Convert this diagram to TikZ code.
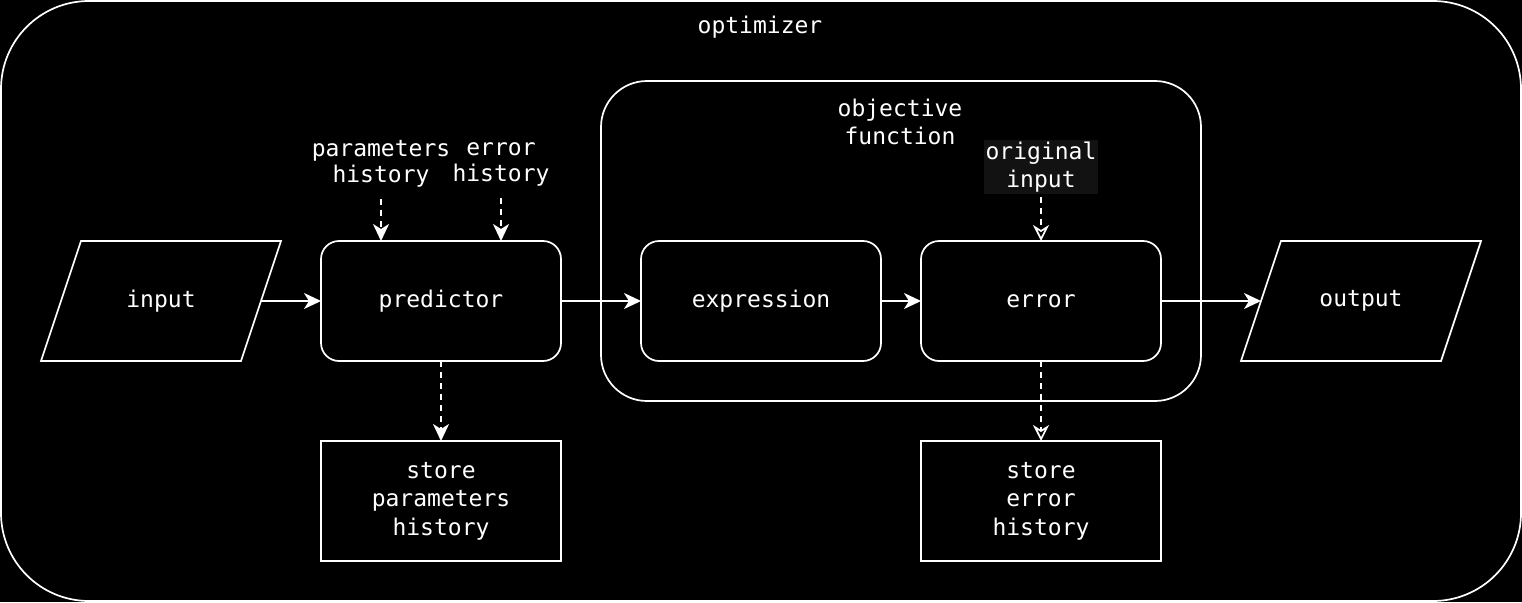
\documentclass[tikz,border=0pt]{standalone}
\usepackage{fontspec}
\setmainfont{DejaVu Sans Mono}
\usetikzlibrary{arrows.meta,positioning}
\definecolor{labelbg}{HTML}{121212}

\tikzset{
  txt/.style={text=white, font=\fontsize{23}{28.5}\selectfont, align=center},
  line/.style={draw=white, line width=1.7pt},
  box/.style={line, minimum width=240pt, minimum height=120pt, inner sep=0pt, outer sep=0pt, txt},
  roundbox/.style={box, rounded corners=18pt},
  iotext/.style={minimum width=200pt, minimum height=120pt, inner sep=0pt, outer sep=0pt, txt},
  flow/.style={line, -{Stealth[length=17pt,width=16pt,inset=5pt]}},
  dashflow/.style={flow, dash pattern=on 6pt off 5pt},
  openflow/.style={line, dash pattern=on 6pt off 5pt, -{Stealth[open,length=16pt,width=16pt,inset=5pt,fill=black]}}
}

\begin{document}
\begin{tikzpicture}[x=1pt,y=-1pt]
\useasboundingbox[fill=black] (0,0) rectangle (1522,602);

% Containers
\node[line, rounded corners=88pt, minimum width=1520pt, minimum height=600pt, inner sep=0pt] (optimizer) at (761,301) {};
\node[txt] (optlabel) at (760,27) {optimizer};
\node[line, rounded corners=46pt, minimum width=600pt, minimum height=320pt, inner sep=0pt] (objective) at (901,241) {};
\node[txt] (objlabel) at (900,122) {objective\\function};

% Main row
\node[iotext] (input) at (161,301) {input};
\draw[line] ([xshift=20pt]input.north west) -- ([xshift=20pt]input.north east)
  -- ([xshift=-20pt]input.south east) -- ([xshift=-20pt]input.south west) -- cycle;
\node[roundbox] (predictor) at (441,301) {predictor};
\node[roundbox] (expression) at (761,301) {expression};
\node[roundbox] (error) at (1041,301) {error};
\node[iotext] (output) at (1361,301) {output};
\draw[line] ([xshift=20pt]output.north west) -- ([xshift=20pt]output.north east)
  -- ([xshift=-20pt]output.south east) -- ([xshift=-20pt]output.south west) -- cycle;

% Histories
\node[box] (storeparams) at (441,501) {store\\parameters\\history};
\node[box] (storeerror) at (1041,501) {store\\error\\history};

% Side inputs
\node[txt, font=\fontsize{23}{26}\selectfont, inner sep=6pt, outer sep=6pt] (paramhist) at (381,164) {parameters\\history};
\node[txt, font=\fontsize{23}{26}\selectfont, inner sep=6pt, outer sep=6pt] (errhist) at (501,164) {error\\history};
\node[txt, fill=labelbg, inner sep=2pt, outer sep=3pt] (originput) at (1041,167) {original\\input};

% Connections
\draw[flow] (input) -- (predictor);
\draw[flow] (predictor) -- (expression);
\draw[flow] (expression) -- (error);
\draw[flow] (error) -- (output);
\draw[dashflow] (paramhist.south) -- (paramhist.south |- predictor.north);
\draw[dashflow] (errhist.south) -- (errhist.south |- predictor.north);
\draw[openflow] (originput) -- (error);
\draw[dashflow] (predictor) -- (storeparams);
\draw[openflow] (error) -- (storeerror);
\end{tikzpicture}
\end{document}
